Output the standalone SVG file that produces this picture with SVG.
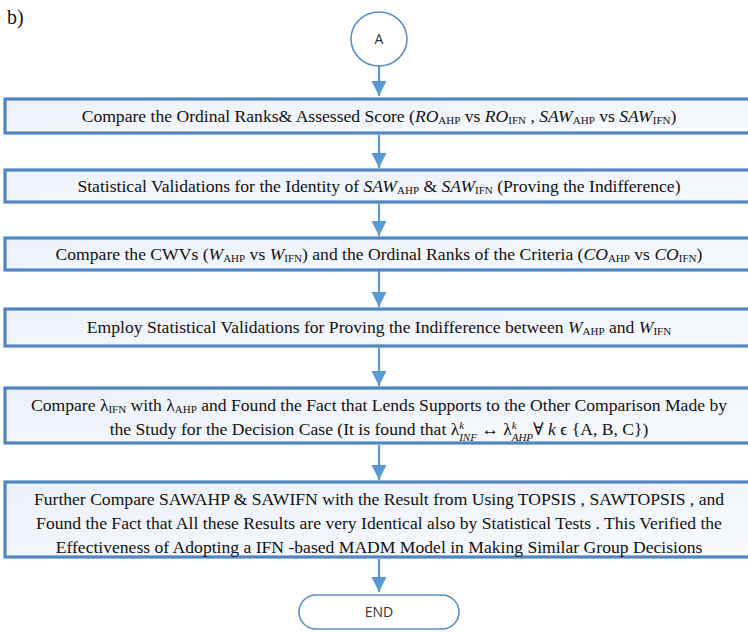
<svg xmlns="http://www.w3.org/2000/svg" width="748" height="632" viewBox="0 0 748 632">
<style>
.box{fill:url(#g);stroke:#4F86C2;stroke-width:3.2}
.t{font-family:"Liberation Serif","DejaVu Serif",serif;font-size:17.6px;fill:#111;text-anchor:middle}
.i{font-style:italic}
.s{font-size:11px}
.sans{font-family:"Open Sans","Liberation Sans",sans-serif;font-size:14px;fill:#333;text-anchor:middle}
.term{fill:#fff;stroke:#5B8FC7;stroke-width:1.6}
.ln{stroke:#5B9BD5;stroke-width:2.2;fill:none;marker-end:url(#ah)}
</style>
<defs>
<linearGradient id="g" x1="0" y1="0" x2="1" y2="1">
<stop offset="0" stop-color="#ECF1F9"/>
<stop offset="1" stop-color="#F8FAFD"/>
</linearGradient>
<marker id="ah" markerWidth="8" markerHeight="7" refX="7" refY="3.5" orient="auto" markerUnits="strokeWidth">
<path d="M0,0 L7,3.5 L0,7 Z" fill="#5B9BD5"/>
</marker>
</defs>
<text x="7" y="24" font-family="Liberation Serif,serif" font-size="20" fill="#111">b)</text>
<g id="connectors">
<line class="ln" x1="379" y1="66" x2="379" y2="96"/>
<line class="ln" x1="379" y1="135" x2="379" y2="168"/>
<line class="ln" x1="379" y1="204" x2="379" y2="236"/>
<line class="ln" x1="379" y1="271" x2="379" y2="307"/>
<line class="ln" x1="379" y1="348" x2="379" y2="386"/>
<line class="ln" x1="379" y1="445" x2="379" y2="480"/>
<line class="ln" x1="379" y1="559" x2="379" y2="592"/>
</g>
<g id="startA">
<ellipse class="term" cx="379" cy="39" rx="28" ry="27"/>
<text class="sans" x="379" y="44">A</text>
</g>
<g id="box1">
<rect class="box" x="5" y="99" width="760" height="34"/>
<text class="t" x="379" y="122">Compare the Ordinal Ranks&amp; Assessed Score  (<tspan class="i">RO</tspan><tspan class="s" dy="2">AHP</tspan><tspan dy="-2"> vs </tspan><tspan class="i">RO</tspan><tspan class="s" dy="2">IFN</tspan><tspan dy="-2"> , </tspan><tspan class="i">SAW</tspan><tspan class="s" dy="2">AHP</tspan><tspan dy="-2"> vs </tspan><tspan class="i">SAW</tspan><tspan class="s" dy="2">IFN</tspan><tspan dy="-2">)</tspan></text>
</g>
<g id="box2">
<rect class="box" x="5" y="170" width="760" height="32"/>
<text class="t" x="379" y="192">Statistical Validations for the Identity of  <tspan class="i">SAW</tspan><tspan class="s" dy="2">AHP</tspan><tspan dy="-2"> &amp; </tspan><tspan class="i">SAW</tspan><tspan class="s" dy="2">IFN</tspan><tspan dy="-2"> (Proving the Indifference)</tspan></text>
</g>
<g id="box3">
<rect class="box" x="5" y="238" width="760" height="32"/>
<text class="t" x="379" y="260">Compare the CWVs (<tspan class="i">W</tspan><tspan class="s" dy="2">AHP</tspan><tspan dy="-2"> vs </tspan><tspan class="i">W</tspan><tspan class="s" dy="2">IFN</tspan><tspan dy="-2">) and the Ordinal Ranks of the Criteria (</tspan><tspan class="i">CO</tspan><tspan class="s" dy="2">AHP</tspan><tspan dy="-2"> vs </tspan><tspan class="i">CO</tspan><tspan class="s" dy="2">IFN</tspan><tspan dy="-2">)</tspan></text>
</g>
<g id="box4">
<rect class="box" x="5" y="309" width="760" height="37"/>
<text class="t" x="379" y="333">Employ Statistical Validations for Proving the Indifference between  <tspan class="i">W</tspan><tspan class="s" dy="2">AHP</tspan><tspan dy="-2"> and </tspan><tspan class="i">W</tspan><tspan class="s" dy="2">IFN</tspan></text>
</g>
<g id="box5">
<rect class="box" x="5" y="388" width="760" height="55"/>
<text class="t" x="379" y="411">Compare λ<tspan class="s" dy="2">IFN</tspan><tspan dy="-2"> with λ</tspan><tspan class="s" dy="2">AHP</tspan><tspan dy="-2"> and Found the Fact that Lends Supports to the Other Comparison Made by</tspan></text>
<text class="t" x="379" y="435">the Study for the Decision Case  (It is found that  λ<tspan class="s i" dy="-6">k</tspan><tspan class="s i" dx="-5" dy="12">INF</tspan><tspan dy="-6"> ↔  λ</tspan><tspan class="s i" dy="-6">k</tspan><tspan class="s i" dx="-5" dy="12">AHP</tspan><tspan dy="-6">∀ </tspan><tspan class="i">k</tspan><tspan> ϵ {A, B, C})</tspan></text>
</g>
<g id="box6">
<rect class="box" x="5" y="482" width="760" height="75"/>
<text class="t" x="379" y="505">Further Compare SAWAHP &amp; SAWIFN with the Result from Using TOPSIS , SAWTOPSIS , and</text>
<text class="t" x="379" y="529">Found the Fact that All these Results are very Identical also by Statistical Tests  . This Verified the</text>
<text class="t" x="379" y="553">Effectiveness of Adopting a IFN -based MADM Model in Making Similar Group Decisions</text>
</g>
<g id="end">
<rect class="term" x="299" y="595" width="160" height="34" rx="17"/>
<text class="sans" x="379" y="617">END</text>
</g>
</svg>
